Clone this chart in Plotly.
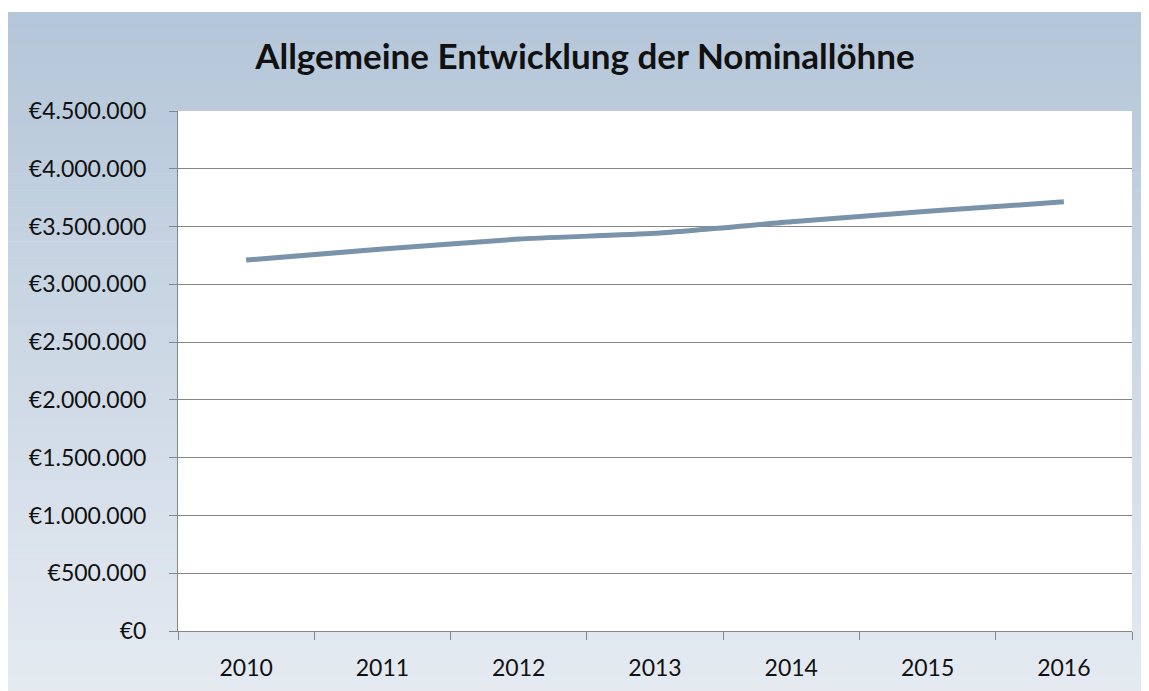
import plotly.graph_objects as go

years = ["2010", "2011", "2012", "2013", "2014", "2015", "2016"]
wages = [3210000, 3305000, 3392000, 3442000, 3541000, 3632000, 3714000]
title_text = "Allgemeine Entwicklung der Nominallöhne"

W, H = 1149, 683
ML, MR, MT, MB = 170, 25, 103, 60
PW = W - ML - MR
PH = H - MT - MB


def px_x(p):
    return (p - ML) / PW


def px_y(p):
    return (H - MB - p) / PH


top_c = (180, 198, 217)
bot_c = (229, 234, 241)
shapes = []
y0, y1 = 4, H
n = 80
for i in range(n):
    a = y0 + (y1 - y0) * i / n
    b = y0 + (y1 - y0) * (i + 1) / n + 0.6
    t = i / (n - 1)
    c = tuple(round(top_c[k] + (bot_c[k] - top_c[k]) * t) for k in range(3))
    shapes.append(dict(type="rect", xref="paper", yref="paper", layer="below",
                       x0=px_x(0), x1=px_x(W + 2), y0=px_y(b), y1=px_y(a),
                       fillcolor="rgb(%d,%d,%d)" % c, line=dict(width=0)))
shapes.append(dict(type="rect", xref="paper", yref="paper", layer="below",
                   x0=0, x1=1, y0=0, y1=1, fillcolor="white", line=dict(width=0)))

fig = go.Figure()
fig.add_trace(go.Scatter(x=years, y=wages, mode="lines",
                         line=dict(color="#7a93aa", width=5, shape="spline", smoothing=0.5),
                         hoverinfo="x+y"))

font_family = "Lato, 'Open Sans', sans-serif"
fig.update_layout(
    width=W, height=H,
    margin=dict(l=ML, r=MR, t=MT, b=MB, autoexpand=False),
    paper_bgcolor="white", plot_bgcolor="rgba(0,0,0,0)",
    separators=",.",
    showlegend=False,
    shapes=shapes,
    font=dict(family=font_family, size=23, color="#111111"),
    title=dict(text="<b>" + title_text + "</b>", x=px_x(577), xanchor="center",
               xref="paper", y=1 - 49 / H, yanchor="middle", yref="container",
               font=dict(size=35, family=font_family, color="#111111")),
    xaxis=dict(type="category", range=[-0.5, 6.5], showgrid=False,
               showline=True, linecolor="#868686", linewidth=1,
               ticks="outside", tickson="boundaries", ticklen=8, tickcolor="#868686",
               ticklabelstandoff=16, zeroline=False),
    yaxis=dict(range=[0, 4500000], dtick=500000, tickprefix="€", tickformat=",.0f",
               showgrid=True, gridcolor="#868686", gridwidth=1,
               showline=True, linecolor="#868686", linewidth=1,
               ticks="outside", ticklen=8, tickcolor="#868686",
               ticklabelstandoff=18, zeroline=False),
)

fig.write_html("out.html")
